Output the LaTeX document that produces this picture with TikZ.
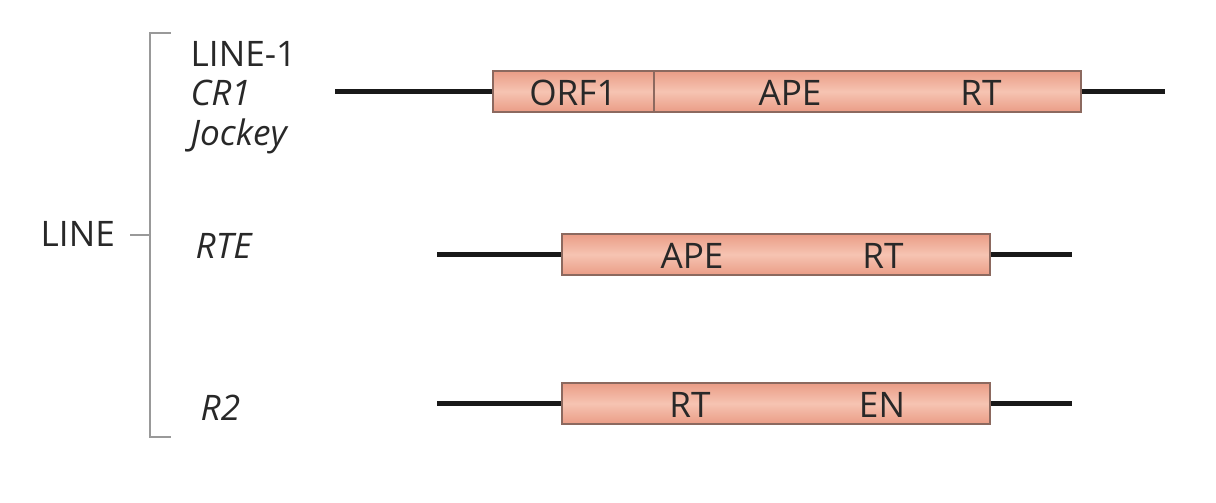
\documentclass[tikz,border=0pt]{standalone}
\usepackage{fontspec}
\setmainfont{Open Sans}
\usepackage{tikz}
\usetikzlibrary{positioning, calc}

\definecolor{txtgray}{RGB}{40,40,40}
\definecolor{orfedge}{RGB}{234,156,134}
\definecolor{orfmid}{RGB}{246,196,178}
\definecolor{orfline}{RGB}{140,105,95}

\begin{document}
\begin{tikzpicture}[
  orf/.style={draw=orfline, line width=0.5pt, rectangle,
    top color=orfedge, bottom color=orfedge, middle color=orfmid,
    minimum height=0.41cm, inner sep=0pt},
  domlabel/.style={font=\fontsize{10}{12}\selectfont, text=txtgray, inner sep=0pt},
  famlabel/.style={font=\fontsize{10}{12}\selectfont, text=txtgray,
    anchor=base west, inner sep=0pt},
  dna/.style={line width=1.2pt, draw=black!90},
  brace/.style={draw=gray!80, line width=0.5pt}
]
\useasboundingbox (0,0) rectangle (12.16,5.02);

%% ── Family labels ──
\node[famlabel] (line1)  at (1.90,4.353) {LINE-1};
\node[famlabel] (cr1)    at (1.90,3.96)  {\itshape CR1};
\node[famlabel] (jockey) at (1.90,3.56)  {\itshape Jockey};
\node[famlabel] (rte)    at (1.95,2.44)  {\itshape RTE};
\node[famlabel] (rtwo)   at (2.00,0.82)  {\itshape R2};
\node[famlabel] (line)   at (0.40,2.553) {LINE};

%% ── Bracket ──
\coordinate (brtop) at (1.50,4.687);
\coordinate (brbot) at (1.50,0.653);
\coordinate (brmid) at (1.50,2.67);
\draw[brace] ([xshift=0.207cm]brtop) -- (brtop) -- (brbot) -- ([xshift=0.207cm]brbot);
\draw[brace] ([xshift=-0.20cm]brmid) -- (brmid);

%% ── LINE-1 / CR1 / Jockey ──
\coordinate (la) at (3.35,4.105);
\coordinate (lb) at (11.65,4.105);
\node[orf, minimum width=5.88cm] (orfa) at (7.87,4.105) {};
\draw[dna] (la) -- (orfa.west);
\draw[dna] (orfa.east) -- (lb);
\draw[draw=orfline, line width=0.5pt] ([xshift=1.62cm]orfa.south west) -- ([xshift=1.62cm]orfa.north west);
\node[domlabel] (orf1a) at (5.73,4.095) {ORF1};
\node[domlabel] (apea)  at (7.90,4.095) {APE};
\node[domlabel] (rta)   at (9.81,4.095) {RT};

%% ── RTE ──
\coordinate (ra) at (4.37,2.475);
\coordinate (rb) at (10.72,2.475);
\node[orf, minimum width=4.28cm] (orfb) at (7.76,2.475) {};
\draw[dna] (ra) -- (orfb.west);
\draw[dna] (orfb.east) -- (rb);
\node[domlabel] (apeb) at (6.92,2.465) {APE};
\node[domlabel] (rtb)  at (8.83,2.465) {RT};

%% ── R2 ──
\coordinate (sa) at (4.37,0.985);
\coordinate (sb) at (10.72,0.985);
\node[orf, minimum width=4.28cm] (orfc) at (7.76,0.985) {};
\draw[dna] (sa) -- (orfc.west);
\draw[dna] (orfc.east) -- (sb);
\node[domlabel] (rtc) at (6.90,0.975) {RT};
\node[domlabel] (enc) at (8.82,0.975) {EN};

\end{tikzpicture}
\end{document}
